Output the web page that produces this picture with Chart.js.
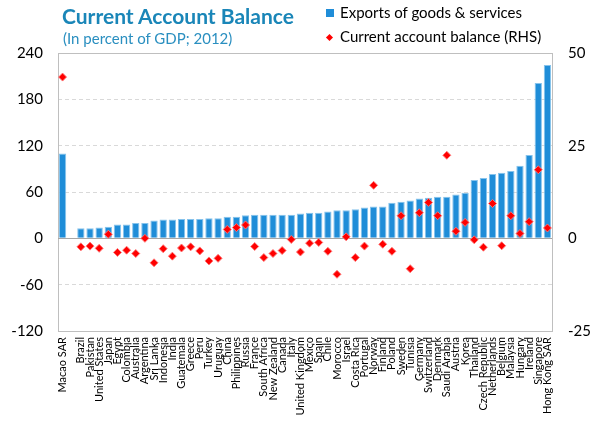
<!DOCTYPE html>
<html>
<head>
<meta charset="utf-8">
<script src="https://cdn.jsdelivr.net/npm/chart.js@4/dist/chart.umd.min.js"></script>
<style>
  html, body { margin: 0; padding: 0; background: #fff; }
  #wrap { position: relative; width: 596px; height: 422px; font-family: Lato, "Noto Sans", sans-serif; }
  #c { position: absolute; left: 0; top: 0; }
  .t { position: absolute; white-space: nowrap; }
  #title { left: 62px; top: 3px; font-size: 21px; font-weight: 700; color: #1a86b8; }
  #sub { left: 63px; top: 29px; font-size: 15px; color: #2a8fc0; }
  .lg { font-size: 15px; color: #000; }
  #lg1 { left: 340px; top: 3px; }
  #lg2 { left: 340px; top: 27px; }
  #sq { position: absolute; left: 326px; top: 9px; width: 8px; height: 8px; background: #1f8dd8; }
  #dm { position: absolute; left: 327px; top: 35px; width: 5px; height: 5px; background: #ff0000; transform: rotate(45deg); }
</style>
</head>
<body>
<div id="wrap">
  <canvas id="c" width="596" height="422"></canvas>
  <div class="t" id="title">Current Account Balance</div>
  <div class="t" id="sub">(In percent of GDP; 2012)</div>
  <div id="sq"></div>
  <div class="t lg" id="lg1">Exports of goods &amp; services</div>
  <div id="dm"></div>
  <div class="t lg" id="lg2">Current account balance (RHS)</div>
</div>
<script>
const categories = ["Macao SAR","","Brazil","Pakistan","United States","Japan","Egypt","Colombia","Australia","Argentina","Sri Lanka","Indonesia","India","Guatemala","Greece","Peru","Turkey","Uruguay","China","Philippines","Russia","France","South Africa","New Zealand","Canada","Italy","United Kingdom","Mexico","Spain","Chile","Morocco","Israel","Costa Rica","Portugal","Norway","Finland","Poland","Sweden","Tunisia","Germany","Switzerland","Denmark","Saudi Arabia","Austria","Korea","Thailand","Czech Republic","Netherlands","Belgium","Malaysia","Hungary","Ireland","Singapore","Hong Kong SAR"];

const exportsPct = [110,null,13,13,14,15,18,18,20,20,23,24.5,24.5,25,25,25,26,26,28,28,30,30.6,30.6,30.6,30.6,30.6,32.3,33,33,34.8,36.5,36.5,37.8,40,41.3,41.3,46,47.5,49,51.6,52.5,54,54,56.8,59,75.7,78,83.4,85,87.3,94,108,201,224.5];

const currentAccount = [43.5,null,-2.3,-2.1,-2.7,1.1,-3.8,-3.2,-4.1,0.0,-6.6,-2.8,-4.8,-2.6,-2.3,-3.4,-6.1,-5.4,2.4,2.9,3.6,-2.2,-5.2,-4.1,-3.3,-0.3,-3.7,-1.3,-1.1,-3.5,-9.7,0.4,-5.2,-2.1,14.3,-1.6,-3.5,6.1,-8.2,6.9,9.7,6.1,22.4,1.9,4.3,-0.4,-2.4,9.4,-2.0,6.1,1.3,4.5,18.5,2.8];

const leftTicks = [-120,-60,0,60,120,180,240];
const rightTicks = [-25,0,25,50];

const boxPlugin = {
  id: 'box',
  beforeDatasetsDraw(chart) {
    const {ctx, chartArea: a, scales} = chart;
    ctx.save();
    ctx.strokeStyle = '#bfbfbf';
    ctx.lineWidth = 1;
    ctx.strokeRect(Math.round(a.left) + 0.5, Math.round(a.top) + 0.5, Math.round(a.right - a.left), Math.round(a.bottom - a.top));
    const y0 = Math.round(scales.y.getPixelForValue(0)) + 0.5;
    ctx.strokeStyle = '#a6a6a6';
    ctx.beginPath();
    ctx.moveTo(a.left, y0);
    ctx.lineTo(a.right, y0);
    ctx.stroke();
    ctx.restore();
  }
};

new Chart(document.getElementById('c'), {
  data: {
    labels: categories,
    datasets: [
      {
        type: 'line',
        label: 'Current account balance (RHS)',
        data: currentAccount,
        yAxisID: 'y2',
        showLine: false,
        pointStyle: 'rectRot',
        pointRadius: 4,
        pointBackgroundColor: '#ff0000',
        pointBorderColor: 'rgba(255,120,120,0.9)',
        pointBorderWidth: 1,
        order: 0
      },
      {
        type: 'bar',
        label: 'Exports of goods & services',
        data: exportsPct,
        yAxisID: 'y',
        backgroundColor: '#1f8dd8',
        borderColor: '#86c3ec',
        borderWidth: 1,
        barPercentage: 0.8,
        categoryPercentage: 1.0,
        order: 1
      }
    ]
  },
  options: {
    responsive: false,
    animation: false,
    devicePixelRatio: 1,
    layout: { padding: { top: 53, left: 0, right: 0, bottom: 0 } },
    plugins: { legend: { display: false }, tooltip: { enabled: false } },
    scales: {
      x: {
        grid: { display: false, drawTicks: false },
        border: { display: false },
        ticks: {
          autoSkip: false, minRotation: 90, maxRotation: 90,
          padding: 6, color: '#000',
          font: { family: 'Lato, "Noto Sans", sans-serif', size: 11 }
        },
        afterFit(s) { s.height = 91; }
      },
      y: {
        position: 'left',
        min: -120, max: 240,
        afterBuildTicks(s) { s.ticks = leftTicks.map(v => ({value: v})); },
        grid: { color: '#d9d9d9', drawTicks: false, lineWidth: 1 },
        border: { display: false, dash: [4, 3] },
        ticks: {
          padding: 15, color: '#000',
          font: { family: 'Lato, "Noto Sans", sans-serif', size: 15 }
        },
        afterFit(s) { s.width = 58; }
      },
      y2: {
        position: 'right',
        min: -25, max: 50,
        afterBuildTicks(s) { s.ticks = rightTicks.map(v => ({value: v})); },
        grid: { display: false, drawTicks: false },
        border: { display: false },
        ticks: {
          padding: 16, color: '#000',
          font: { family: 'Lato, "Noto Sans", sans-serif', size: 15 }
        },
        afterFit(s) { s.width = 44; }
      }
    }
  },
  plugins: [boxPlugin]
});
</script>
</body>
</html>
